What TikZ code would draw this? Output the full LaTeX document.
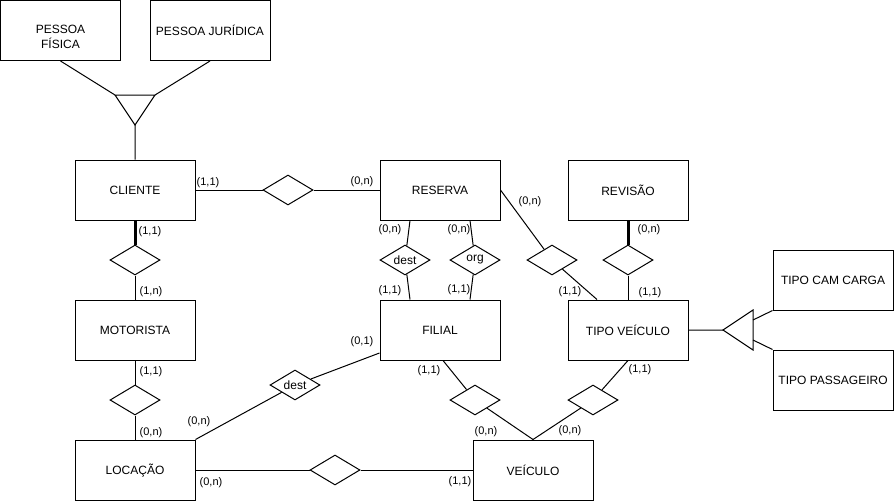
\documentclass[tikz,border=0pt]{standalone}
\usepackage{fontspec}
\setmainfont{Liberation Sans}
\usetikzlibrary{shapes.geometric}
\begin{document}
\begin{tikzpicture}[x=1pt,y=-1pt,line width=1pt,
	ent/.style={draw,minimum width=120,minimum height=60,inner sep=2,align=center,font=\fontsize{12}{15}\selectfont},
	rel/.style={draw,diamond,minimum width=50,minimum height=30,aspect=1.67,inner sep=0,font=\fontsize{12}{14}\selectfont},
	card/.style={inner sep=0,font=\fontsize{11}{13}\selectfont}]
	\useasboundingbox[fill=white] (0,0) rectangle (894,501);
	% entidades
	\node[ent] (pf) at (60.5,30.5) {\rule{0pt}{21pt}PESSOA\\FÍSICA};
	\node[ent] (pj) at (210,30.5) {PESSOA JURÍDICA};
	\node[ent] (cli) at (135,190) {CLIENTE};
	\node[ent] (mot) at (135,330) {MOTORISTA};
	\node[ent] (loc) at (135,470) {LOCAÇÃO};
	\node[ent] (res) at (440,190) {RESERVA};
	\node[ent] (fil) at (440,330) {FILIAL};
	\node[ent] (vei) at (533,470) {VEÍCULO};
	\node[ent] (rev) at (628,190) {REVISÃO};
	\node[ent] (tv) at (628,330) {TIPO VEÍCULO};
	\node[ent] (cam) at (833,280) {TIPO CAM CARGA};
	\node[ent] (pas) at (833,380) {TIPO PASSAGEIRO};
	% relacionamentos
	\node[rel] (rCR) at (288,190) {};
	\node[rel] (rCM) at (135,260) {};
	\node[rel] (rML) at (135,400) {};
	\node[rel] (rLV) at (335,470) {};
	\node[rel] (rLF) at (295,385) {dest};
	\node[rel] (rRFd) at (405,260) {dest};
	\node[rel] (rRFo) at (475,260) {org};
	\node[rel] (rRT) at (552,260) {};
	\node[rel] (rRevT) at (628,260) {};
	\node[rel] (rFV) at (475,400) {};
	\node[rel] (rTV) at (593,400) {};
	\draw (cli) -- (rCR) -- (res);
	\draw[line width=3pt] (cli) -- (rCM);
	\draw (rCM) -- (mot);
	\draw (mot) -- (rML) -- (loc);
	\draw (loc) -- (rLV) -- (vei);
	\draw (loc.north east) -- (rLF) -- ([yshift=-23pt]fil.west);
	\draw ([xshift=-30pt]res.south) -- (rRFd) -- ([xshift=-30pt]fil.north);
	\draw ([xshift=30pt]res.south) -- (rRFo) -- ([xshift=30pt]fil.north);
	\draw (res.east) -- (rRT) -- ([xshift=-31pt]tv.north);
	\draw[line width=3pt] (rev) -- (rRevT);
	\draw (rRevT) -- (tv);
	\draw ([xshift=3pt]fil.south) -- (rFV) -- (vei.north);
	\draw (tv.south) -- (rTV) -- (vei.north);
	% especializacao
	\coordinate (isaA) at (115,95);
	\coordinate (isaB) at (155,95);
	\coordinate (isaC) at (135,125);
	\draw (isaA) -- (isaB) -- (isaC) -- cycle;
	\draw (pf.south) -- (isaA) (pj.south) -- (isaB) (isaC) -- (cli);
	\coordinate (isaD) at (723,330);
	\coordinate (isaE) at (753,310);
	\coordinate (isaF) at (753,350);
	\coordinate (isaG) at (753,320);
	\coordinate (isaH) at (753,340);
	\draw (isaD) -- (isaE) -- (isaF) -- cycle;
	\draw (tv) -- (isaD) (isaG) -- (cam.south west) (isaH) -- (pas.north west);
	% cardinalidades
	\node[card] (k1) at (208,183) {(1,1)};
	\node[card] (k2) at (362,182) {(0,n)};
	\node[card] (k3) at (150,232) {(1,1)};
	\node[card] (k4) at (151,292) {(1,n)};
	\node[card] (k5) at (151,372) {(1,1)};
	\node[card] (k6) at (151,433) {(0,n)};
	\node[card] (k7) at (199,422) {(0,n)};
	\node[card] (k8) at (362,342) {(0,1)};
	\node[card] (k9) at (211,483) {(0,n)};
	\node[card] (k10) at (460,482) {(1,1)};
	\node[card] (k11) at (390,230) {(0,n)};
	\node[card] (k12) at (390,291) {(1,1)};
	\node[card] (k13) at (459,230) {(0,n)};
	\node[card] (k14) at (459,290) {(1,1)};
	\node[card] (k15) at (530,202) {(0,n)};
	\node[card] (k16) at (570,292) {(1,1)};
	\node[card] (k17) at (649,230) {(0,n)};
	\node[card] (k18) at (650,293) {(1,1)};
	\node[card] (k19) at (429,371) {(1,1)};
	\node[card] (k20) at (486,432) {(0,n)};
	\node[card] (k21) at (640,370) {(1,1)};
	\node[card] (k22) at (570,431) {(0,n)};
\end{tikzpicture}
\end{document}
